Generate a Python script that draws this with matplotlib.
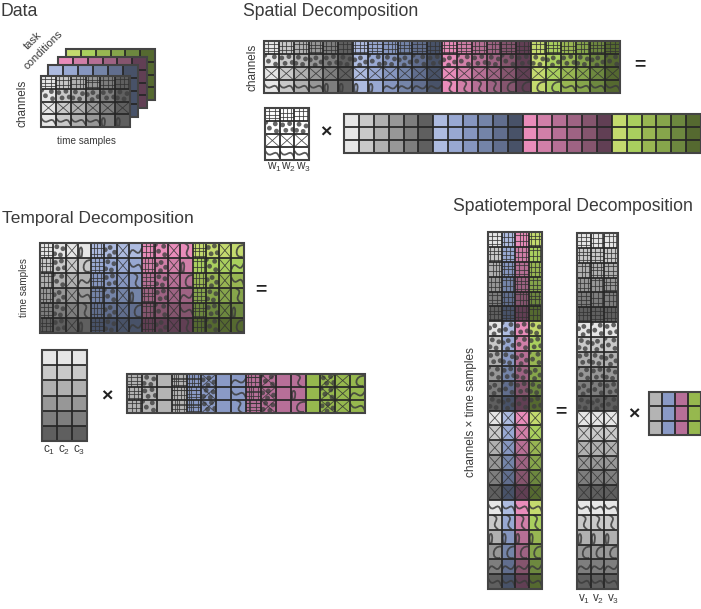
import matplotlib
matplotlib.use('Agg')
import matplotlib.pyplot as plt
from matplotlib.patches import Rectangle, Circle, PathPatch
from matplotlib.path import Path

plt.rcParams['font.family'] = ['Liberation Sans', 'DejaVu Sans']
plt.rcParams['mathtext.default'] = 'regular'

# colour ramps, light to dark
GRAY = ['#e6e6e6', '#c9c9c9', '#b0b0b0', '#979797', '#7e7e7e', '#5f5f5f']
BLUE = ['#adbbe0', '#98a8d2', '#8696c0', '#7484a8', '#616e8e', '#485268']
PINK = ['#e98cba', '#d17fa8', '#b66f95', '#9e6383', '#85556e', '#613f54']
GREEN = ['#c4da6e', '#a9cf5e', '#98b652', '#86a54b', '#6d883f', '#556930']
MID = ['#b4b4b4', '#8a9ac6', '#b76f98', '#96b84e']
RAMPS = [GRAY, BLUE, PINK, GREEN]

ROW_PATTERNS = ['grid', 'dots', 'cross', 'curl']
LOADING_PATTERNS = ['grid', 'dots', None, 'grid2',
                    'grid2', 'dots2', None, 'curl',
                    'grid2', 'dots2', None, 'curl',
                    None, 'dots2', 'cross', 'curl']

TITLES = ['Data', 'Spatial Decomposition', 'Temporal Decomposition', 'Spatiotemporal Decomposition']
W_LABELS = ['$w_1$', '$w_2$', '$w_3$']
C_LABELS = ['$c_1$', '$c_2$', '$c_3$']
V_LABELS = ['$v_1$', '$v_2$', '$v_3$']

# pattern shapes in cell units
DOT_SETS = [[(.2, .3), (.68, .2), (.42, .72), (.9, .65)],
            [(.32, .25), (.8, .38), (.15, .72), (.6, .8)],
            [(.12, .45), (.5, .3), (.85, .62), (.45, .85)],
            [(.3, .55), (.7, .22), (.78, .78), (.05, .1)]]
GRID_SETS = [([.3, .65], [.25, .55, .8]),
             ([.2, .5, .8], [.35, .7]),
             ([.35, .6, .85], [.2, .6]),
             ([.15, .45, .75], [.3, .5, .85])]
CURLS = [[(.15, .98), (-.1, .1), (.5, .05), (.25, .95)],
         [(.02, .75), (.35, -.05), (.6, 1.2), (.98, .35)],
         [(.35, .02), (1.1, .3), (.05, .6), (.75, .98)],
         [(.98, .15), (.3, .05), (.2, 1.1), (.9, .9)],
         [(.02, .3), (.4, 1.1), (.7, -.1), (.98, .8)]]


def draw_pattern(ax, x, y, w, h, kind, idx, clip, z):
    ink = '#333333'
    arts = []
    if kind in ('grid', 'grid2'):
        vs, hs = GRID_SETS[idx % 4]
        if kind == 'grid2':
            vs = vs + GRID_SETS[(idx + 1) % 4][0][:1]
            hs = hs + GRID_SETS[(idx + 2) % 4][1][:1]
        for v in vs:
            arts += ax.plot([x + v * w] * 2, [y, y + h], color=ink, lw=.75, alpha=.75)
        for u in hs:
            arts += ax.plot([x, x + w], [y + u * h] * 2, color=ink, lw=.75, alpha=.75)
    elif kind in ('dots', 'dots2'):
        for px, py in DOT_SETS[idx % 4]:
            arts.append(ax.add_patch(Circle((x + px * w, y + py * h), 2.4, fc='#404040', ec='none', alpha=.8)))
        if kind == 'dots2':
            arts += ax.plot([x, x + w], [y, y + h], color=ink, lw=.7, alpha=.75)
            arts += ax.plot([x, x + w], [y + h, y], color=ink, lw=.7, alpha=.75)
    elif kind == 'cross':
        arts += ax.plot([x, x + w], [y, y + h], color=ink, lw=.6, alpha=.85)
        arts += ax.plot([x, x + w], [y + h, y], color=ink, lw=.6, alpha=.85)
    elif kind == 'curl':
        pts = [(x + a * w, y + b * h) for a, b in CURLS[idx % 5]]
        path = Path(pts, [Path.MOVETO, Path.CURVE4, Path.CURVE4, Path.CURVE4])
        arts.append(ax.add_patch(PathPatch(path, fc='none', ec='#3c3c3c', lw=1.3, alpha=.85)))
    for a in arts:
        a.set_zorder(z)
        a.set_clip_path(clip)


layer = [1]


def draw_grid(ax, x0, y0, x1, y1, colors, patterns=None):
    z = layer[0]
    layer[0] += 1
    rows = len(colors)
    cols = len(colors[0])
    w = (x1 - x0) / cols
    h = (y1 - y0) / rows
    for r in range(rows):
        for c in range(cols):
            x = x0 + c * w
            y = y0 + r * h
            cell = ax.add_patch(Rectangle((x, y), w, h, fc=colors[r][c], ec='none', zorder=z))
            if patterns is not None and patterns[r][c]:
                draw_pattern(ax, x, y, w, h, patterns[r][c], r * 3 + c * 5 + c // 4, cell, z + .3)
    for c in range(1, cols):
        ax.plot([x0 + c * w] * 2, [y0, y1], color='#262626', lw=1.25, solid_capstyle='butt', zorder=z + .6)
    for r in range(1, rows):
        ax.plot([x0, x1], [y0 + r * h] * 2, color='#262626', lw=1.25, solid_capstyle='butt', zorder=z + .6)
    ax.add_patch(Rectangle((x0, y0), x1 - x0, y1 - y0, fc='none', ec='#444444', lw=1.5, zorder=z + .7))


fig = plt.figure(figsize=(7.01, 6.09), dpi=100)
ax = fig.add_axes([0, 0, 1, 1])
ax.set_xlim(0, 701)
ax.set_ylim(609, 0)
ax.axis('off')

txt = '#3a3a3a'
ax.text(1, 15.5, TITLES[0], fontsize=12.7, color=txt)
ax.text(243, 15.5, TITLES[1], fontsize=12.7, color=txt)
ax.text(2, 223.5, TITLES[2], fontsize=12.5, color=txt)
ax.text(453, 211, TITLES[3], fontsize=12.7, color=txt)

all_cols = GRAY + BLUE + PINK + GREEN

# data stack
for ramp, box in [(GREEN, (66, 49, 155, 100)), (PINK, (58, 57, 147, 108)), (BLUE, (48, 65, 138, 117))]:
    draw_grid(ax, *box, [ramp] * 4)
draw_grid(ax, 41, 76, 130, 127, [GRAY] * 4, [[p] * 6 for p in ROW_PATTERNS])
ax.text(23, 103, 'channels', rotation=90, ha='center', va='center', fontsize=8.5, color=txt)
ax.text(33, 41, 'task', rotation=45, ha='center', va='center', fontsize=8, color=txt)
ax.text(43, 50, 'conditions', rotation=45, ha='center', va='center', fontsize=8, color=txt)
ax.text(86, 141, 'time samples', ha='center', va='center', fontsize=7.2, color=txt)

# spatial
draw_grid(ax, 264, 41, 620, 93, [all_cols] * 4, [[p] * 24 for p in ROW_PATTERNS])
ax.text(253, 67, 'channels', rotation=90, ha='center', va='center', fontsize=8.5, color=txt)
draw_grid(ax, 265, 108, 309, 160, [['#ffffff'] * 3] * 4, [[p] * 3 for p in ROW_PATTERNS])
draw_grid(ax, 344, 114, 701, 153, [all_cols] * 3)
for lab, x in zip(W_LABELS, [274, 288, 303]):
    ax.text(x, 170, lab, ha='center', va='baseline', fontsize=8.5, color=txt)

# temporal
temporal_colors = [[RAMPS[c // 4][r] for c in range(16)] for r in range(6)]
draw_grid(ax, 40, 243, 244, 333, temporal_colors, [(ROW_PATTERNS * 4)] * 6)
ax.text(24, 288, 'time samples', rotation=90, ha='center', va='center', fontsize=7.2, color=txt)
draw_grid(ax, 42, 350, 87, 441, [[g] * 3 for g in GRAY])
draw_grid(ax, 127, 374, 365, 413, [[MID[c // 4] for c in range(16)]] * 3, [LOADING_PATTERNS] * 3)
for lab, x in zip(C_LABELS, [49, 64, 79]):
    ax.text(x, 453, lab, ha='center', va='baseline', fontsize=8.5, color=txt)

# spatiotemporal
st_left = [[ramp[r % 6] for ramp in RAMPS] for r in range(24)]
st_mid = [[GRAY[r % 6]] * 3 for r in range(24)]
st_pat = [ROW_PATTERNS[r // 6] for r in range(24)]
draw_grid(ax, 488, 232, 542, 589, st_left, [[p] * 4 for p in st_pat])
draw_grid(ax, 577, 233, 618, 589, st_mid, [[p] * 3 for p in st_pat])
draw_grid(ax, 649, 392, 701, 435, [MID] * 3)
ax.text(471, 412, 'channels \u00d7 time samples', rotation=90, ha='center', va='center', fontsize=8.5, color=txt)
for lab, x in zip(V_LABELS, [584, 598, 613]):
    ax.text(x, 602, lab, ha='center', va='baseline', fontsize=8.5, color=txt)

# operators
for x, y in [(326, 133), (107, 397), (634, 415)]:
    ax.text(x, y, '\u00d7', ha='center', va='center', fontsize=14, fontweight='bold', color='#222222', zorder=50)
for x, y in [(640, 65), (261, 290), (561, 412)]:
    ax.text(x, y, '=', ha='center', va='center', fontsize=14, fontweight='bold', color='#222222', zorder=50)

fig.savefig('out.png', dpi=100)
